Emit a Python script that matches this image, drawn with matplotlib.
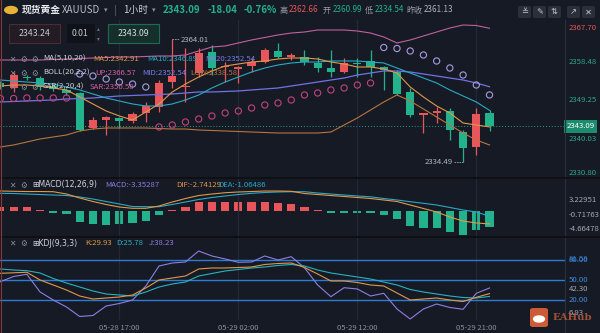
import numpy as np
import matplotlib
matplotlib.use('Agg')
import matplotlib.pyplot as plt
from matplotlib.patches import FancyBboxPatch, Circle, Rectangle

plt.rcParams['font.family'] = ['Noto Sans CJK SC', 'DejaVu Sans']

# hourly XAUUSD candles, 05-28 08:00 .. 05-29 22:00
opens = [2353.44, 2352.25, 2354.88, 2354.64, 2352.72, 2351.77, 2351.05, 2342.65, 2344.57, 2345.05,
         2344.33, 2346.25, 2347.69, 2353.68, 2352.49, 2355.84, 2360.88, 2357.28, 2356.80, 2357.52,
         2358.48, 2361.12, 2359.68, 2359.68, 2358.24, 2357.04, 2356.08, 2358.24, 2358.72, 2357.28,
         2356.08, 2351.29, 2345.77, 2346.25, 2346.73, 2341.69, 2338.10, 2346.25]
highs = [2353.92, 2356.08, 2355.36, 2355.12, 2353.20, 2352.25, 2351.29, 2345.29, 2345.53, 2345.29,
         2346.49, 2348.89, 2354.16, 2364.01, 2361.84, 2361.84, 2362.56, 2358.48, 2357.52, 2359.44,
         2361.84, 2363.04, 2360.64, 2361.36, 2359.68, 2361.36, 2359.44, 2359.44, 2361.36, 2357.52,
         2356.56, 2352.25, 2346.25, 2347.69, 2347.45, 2342.17, 2347.45, 2346.97]
lows = [2352.01, 2351.29, 2354.16, 2351.77, 2351.53, 2350.57, 2341.93, 2342.41, 2340.97, 2342.65,
        2343.85, 2344.09, 2346.49, 2352.25, 2348.89, 2354.88, 2355.36, 2353.68, 2353.44, 2356.08,
        2358.24, 2359.44, 2358.96, 2357.76, 2356.08, 2354.88, 2355.84, 2354.88, 2354.88, 2351.77,
        2350.57, 2345.29, 2341.45, 2343.85, 2339.77, 2334.49, 2336.18, 2341.93]
closes = [2352.49, 2355.36, 2354.64, 2352.49, 2352.01, 2351.05, 2342.17, 2344.57, 2345.29, 2344.33,
          2346.01, 2347.93, 2353.44, 2355.12, 2352.72, 2360.64, 2357.04, 2357.52, 2357.28, 2358.48,
          2361.36, 2359.68, 2360.16, 2358.48, 2357.04, 2356.08, 2358.24, 2358.00, 2357.28, 2356.56,
          2350.81, 2345.77, 2346.25, 2346.73, 2342.17, 2337.86, 2346.01, 2343.09]

ma5 = [2352.72, 2352.96, 2352.96, 2352.72, 2352.25, 2351.77, 2350.09, 2348.41, 2346.73, 2345.53,
       2344.57, 2346.49, 2348.41, 2351.29, 2353.20, 2354.88, 2356.32, 2357.52, 2358.00, 2358.48,
       2358.72, 2359.20, 2359.44, 2359.44, 2359.20, 2358.48, 2358.00, 2357.28, 2357.28, 2356.80,
       2355.84, 2352.49, 2350.09, 2347.93, 2346.25, 2343.85, 2343.37, 2342.91]
ma10 = [2354.16, 2353.92, 2353.68, 2353.44, 2353.20, 2352.49, 2351.77, 2350.81, 2349.85, 2349.13,
        2348.41, 2347.93, 2347.93, 2348.41, 2349.37, 2350.57, 2352.25, 2353.68, 2354.88, 2356.08,
        2357.04, 2357.76, 2358.24, 2358.48, 2358.48, 2358.72, 2358.72, 2358.72, 2358.48, 2358.24,
        2357.04, 2355.84, 2354.64, 2353.44, 2351.77, 2350.33, 2348.89, 2346.89]
boll_mid = [2348.89, 2349.01, 2349.13, 2349.25, 2349.37, 2349.61, 2349.73, 2349.85, 2350.09, 2350.33,
            2350.45, 2350.57, 2350.69, 2350.81, 2351.05, 2351.29, 2351.29, 2351.41, 2351.53, 2351.77,
            2352.01, 2352.25, 2352.72, 2353.20, 2353.68, 2354.16, 2354.64, 2355.36, 2355.84, 2356.32,
            2356.32, 2356.08, 2355.60, 2355.12, 2354.64, 2354.16, 2353.44, 2352.54]
boll_up = [2358.96, 2358.96, 2358.96, 2358.96, 2359.08, 2359.20, 2359.32, 2359.44, 2359.56, 2359.68,
           2359.68, 2359.80, 2359.92, 2359.92, 2360.16, 2361.12, 2362.08, 2362.32, 2363.04, 2363.76,
           2364.36, 2364.96, 2365.43, 2365.67, 2366.15, 2366.15, 2366.15, 2365.91, 2365.43, 2364.48,
           2363.04, 2363.76, 2364.72, 2365.67, 2366.63, 2367.35, 2367.23, 2366.57]
boll_low = [2338.10, 2338.58, 2339.30, 2340.02, 2340.50, 2340.97, 2341.93, 2342.41, 2342.65, 2342.65,
            2342.65, 2342.65, 2342.53, 2342.41, 2342.41, 2342.17, 2342.05, 2341.93, 2341.81, 2341.69,
            2341.57, 2341.45, 2341.45, 2341.45, 2341.45, 2341.69, 2343.37, 2345.05, 2346.97, 2348.89,
            2350.57, 2349.13, 2347.21, 2345.29, 2343.37, 2341.45, 2339.77, 2338.58]
sar = [2349.73, 2349.73, 2349.85, 2349.85, 2349.85, 2349.85,
       2355.60, 2355.12, 2354.40, 2353.68, 2353.20, 2352.49,
       2342.89, 2343.37, 2344.09, 2344.81, 2345.53, 2346.25, 2346.73, 2347.45, 2348.17, 2348.65,
       2349.37, 2350.57, 2351.05, 2351.77, 2352.25, 2352.96, 2353.44,
       2361.96, 2361.72, 2361.12, 2360.16, 2358.72, 2357.04, 2355.36, 2352.96, 2350.58]

macd_hist = [1.0, 1.0, 0.93, 0.3, -0.43, -0.65, -2.26, -2.83, -2.98, -2.83,
             -2.61, -2.11, -0.80, 0.25, 1.0, 1.96, 1.96, 2.09, 1.96, 1.96,
             2.09, 1.74, 1.52, 1.0, 0.3, -0.3, -0.3, -0.35, -0.43, -0.80,
             -1.74, -3.13, -3.70, -3.70, -4.43, -5.15, -4.07, -3.35287]
dif = [4.41, 4.35, 4.30, 4.30, 4.26, 3.76, 2.89, 2.13, 1.48, 0.93,
       0.65, 0.65, 1.15, 2.02, 2.78, 3.43, 3.76, 4.04, 4.20, 4.30,
       4.41, 4.41, 4.35, 3.87, 3.65, 3.43, 3.22, 3.00, 2.78, 2.46,
       2.13, 1.37, 0.61, -0.15, -1.24, -2.11, -2.54, -2.74129]
dea = [3.91, 3.87, 3.76, 3.65, 3.54, 3.43, 3.11, 2.67, 2.13, 1.59,
       1.04, 1.00, 1.00, 1.48, 2.02, 2.57, 3.00, 3.33, 3.65, 3.91,
       4.09, 4.20, 4.26, 4.26, 3.98, 3.76, 3.54, 3.33, 3.15, 2.78,
       2.46, 2.09, 1.74, 1.37, 0.83, 0.28, -0.15, -1.06486]

k_line = [59.88, 60.62, 61.36, 50.0, 42.63, 35.25, 26.40, 21.98, 23.45, 24.93,
          27.88, 38.20, 50.0, 52.95, 55.90, 66.22, 67.70, 67.70, 68.44, 69.17,
          72.86, 74.34, 75.07, 68.44, 58.85, 48.53, 48.53, 46.31, 42.63, 41.15,
          30.83, 20.50, 21.98, 23.45, 20.50, 18.29, 24.48, 29.93]
d_line = [66.22, 64.75, 63.72, 60.32, 52.21, 45.58, 39.68, 33.78, 29.35, 27.88,
          26.40, 32.30, 39.68, 44.10, 47.05, 55.90, 59.59, 63.27, 65.49, 67.70,
          69.17, 71.39, 72.86, 70.65, 64.75, 60.32, 57.37, 54.42, 51.47, 47.05,
          42.63, 35.99, 32.30, 29.35, 26.40, 24.19, 23.45, 25.78]
j_line = [47.49, 55.16, 58.41, 32.30, 20.50, 10.18, -3.83, -2.36, 11.65, 15.34,
          20.50, 41.15, 70.65, 75.07, 76.55, 92.77, 85.40, 80.97, 76.11, 76.55,
          85.40, 79.50, 84.37, 68.14, 42.63, 25.37, 38.64, 36.73, 26.40, 30.38,
          7.23, -7.52, 7.23, 14.60, 9.44, 6.78, 30.38, 38.23]

time_ticks = [9, 18, 27, 36]
time_labels = ['05-28 17:00', '05-29 02:00', '05-29 12:00', '05-29 21:00']
price_ticks = [2367.70, 2358.48, 2349.25, 2340.03, 2330.80]
macd_ticks = [3.22951, -0.71763, -4.66478]
kdj_levels = [80, 50, 20]
kdj_marks = [81.58, 42.30, 6.93]

BG = '#161a24'
RED = '#e8555a'
GREEN = '#22b28c'
GRID = '#242936'
GRAY = '#8b909b'
C_MA5 = '#e0984a'
C_MA10 = '#2aa9c4'
C_MID = '#7272e6'
C_UP = '#c0609f'
C_LOW = '#b87540'
C_SAR_DN = '#c2427f'
C_SAR_UP = '#a99ce0'
C_J = '#8c7fe4'
C_LVL = '#2e7bd3'

W, H = 600, 333
fig = plt.figure(figsize=(6, 3.33), dpi=100)
fig.patch.set_facecolor(BG)


def box(x0, y0, x1, y1):
    return [x0 / W, 1 - y1 / H, (x1 - x0) / W, (y1 - y0) / H]


def put(x, y, s, color, size=5.6, **kw):
    fig.text(x / W, 1 - y / H, s, color=color, fontsize=size, va='center', **kw)


ax = fig.add_axes(box(0, 20, 565, 177))
ax_macd = fig.add_axes(box(0, 178, 565, 236), sharex=ax)
ax_kdj = fig.add_axes(box(0, 237, 565, 320), sharex=ax)

idx = np.arange(len(closes))
o = np.array(opens)
c = np.array(closes)
hi = np.array(highs)
lo = np.array(lows)

for a in (ax, ax_macd, ax_kdj):
    a.set_facecolor(BG)
    for s in a.spines.values():
        s.set_visible(False)
    a.set_xticks(time_ticks)
    a.grid(axis='x', color=GRID, lw=0.9)
    a.tick_params(length=0, labelleft=False, labelright=False, labelbottom=False)
    a.set_yticks([])

ax.set_xlim(-0.03, 42.71)

# ---- price pane ----
ax.set_ylim(2330.90, 2368.55)
up = c >= o
col = np.where(up, RED, GREEN)
ax.vlines(idx, lo, hi, colors=col, lw=0.9, zorder=2)
ax.bar(idx, np.maximum(np.abs(c - o), 0.25), bottom=np.minimum(o, c),
       width=0.62, color=col, linewidth=0, zorder=2)

ax.plot(idx, boll_up, color=C_UP, lw=0.8, zorder=3)
ax.plot(idx, boll_mid, color=C_MID, lw=0.9, zorder=3)
ax.plot(idx, boll_low, color=C_LOW, lw=0.8, zorder=3)
ax.plot(idx, ma10, color=C_MA10, lw=0.8, zorder=3)
ax.plot(idx, ma5, color=C_MA5, lw=0.8, zorder=3)

s_arr = np.array(sar)
below = s_arr < c
ax.scatter(idx[below], s_arr[below], s=20, facecolors='none', edgecolors=C_SAR_DN, linewidths=0.8, zorder=4)
ax.scatter(idx[~below], s_arr[~below], s=20, facecolors='none', edgecolors=C_SAR_UP, linewidths=0.8, zorder=4)

ax.axhline(c[-1], color='#2a9d84', lw=0.7, ls=(0, (1, 2)), zorder=1)

# extreme high / low markers
i_hi = int(np.argmax(hi))
i_lo = int(np.argmin(lo))
ax.plot([i_hi, i_hi + 0.5], [hi[i_hi], hi[i_hi]], color='#9a9ea8', lw=0.6, ls=(0, (2, 1)))
ax.text(i_hi + 0.6, hi[i_hi] - 0.3, f'{hi[i_hi]:.2f}', color='#b3b7bf', fontsize=5.6, va='center')
ax.plot([i_lo - 0.7, i_lo], [lo[i_lo], lo[i_lo]], color='#9a9ea8', lw=0.6, ls=(0, (2, 1)))
ax.text(i_lo - 0.75, lo[i_lo], f'{lo[i_lo]:.2f}', color='#b3b7bf', fontsize=5.6, va='center', ha='right')

ytr = ax.get_yaxis_transform()
for v in price_ticks:
    va = 'center'
    color = '#2fa887'
    if v == max(price_ticks):
        va, color = 'top', RED
    elif v == min(price_ticks):
        va = 'bottom'
    ax.text(1.006, v, f'{v:.2f}', transform=ytr, color=color, fontsize=5.6, va=va, ha='left')
ax.text(1.003, c[-1], f'{c[-1]:.2f}', transform=ytr, color='white', fontsize=5.6, va='center', ha='left',
        bbox=dict(boxstyle='square,pad=0.3', fc='#1d8b6e', ec='none'), zorder=6)

# ---- MACD pane ----
ax_macd.set_ylim(-5.37, 7.24)
hist = np.array(macd_hist)
ax_macd.bar(idx, hist, width=0.62, color=np.where(hist >= 0, RED, GREEN), linewidth=0)
ax_macd.plot(idx, dea, color=C_MA10, lw=0.8)
ax_macd.plot(idx, dif, color=C_MA5, lw=0.8)
mtr = ax_macd.get_yaxis_transform()
for v, va in zip(macd_ticks, ['top', 'center', 'bottom']):
    ax_macd.text(1.006, v, f'{v:.5f}', transform=mtr, color='#a3a8b2', fontsize=5.6, va=va, ha='left')

# ---- KDJ pane ----
ax_kdj.set_ylim(-9.0, 113.4)
for lv in kdj_levels:
    ax_kdj.axhline(lv, color=C_LVL, lw=1.0)
ax_kdj.plot(idx, j_line, color=C_J, lw=0.8)
ax_kdj.plot(idx, d_line, color='#26b3c0', lw=0.8)
ax_kdj.plot(idx, k_line, color=C_MA5, lw=0.8)
ktr = ax_kdj.get_yaxis_transform()
for lv in kdj_levels:
    ax_kdj.text(1.006, lv, f'{lv:.2f}', transform=ktr, color='#3d8be0', fontsize=5.6, va='center')
ax_kdj.text(1.006, kdj_marks[0], f'{kdj_marks[0]:.2f}', transform=ktr, color='#3d8be0', fontsize=5.6, va='center', alpha=0.8)
ax_kdj.text(1.006, kdj_marks[1], f'{kdj_marks[1]:.2f}', transform=ktr, color='#a3a8b2', fontsize=5.6, va='top')
ax_kdj.text(1.006, kdj_marks[2], f'{kdj_marks[2]:.2f}', transform=ktr, color='#a3a8b2', fontsize=5.6, va='top', zorder=5)

ax_kdj.set_xticks(time_ticks, labels=time_labels)
ax_kdj.tick_params(labelbottom=True, labelsize=5.5, labelcolor=GRAY, pad=3)

# ---- frame lines ----
fig.add_artist(plt.Line2D([565 / W, 565 / W], [0, 1 - 20 / H], color='#2b303c', lw=0.8))
for yy in (177.5, 236.5):
    fig.add_artist(plt.Line2D([0, 1], [1 - yy / H, 1 - yy / H], color='#0c0e13', lw=1.2))
fig.add_artist(plt.Line2D([0.5 / W, 0.5 / W], [0, 1], color='#8a3a3a', lw=0.8))

# ---- header ----
fig.add_artist(Circle((11 / W, 1 - 10 / H), 0.0105, transform=fig.transFigure, color='#e8b13a'))
put(22, 10, '现货黄金', '#e6e8ec', size=7, fontweight='bold')
put(62, 10, 'XAUUSD', '#b9bdc6', size=7)
put(104, 10, '▾', GRAY, size=5)
fig.add_artist(plt.Line2D([115 / W, 115 / W], [1 - 5 / H, 1 - 15 / H], color='#454a55', lw=0.8))
put(123, 10, '1小时', '#c9ccd3', size=7)
put(152, 10, '▾', GRAY, size=5)
put(163, 10, f'{c[-1]:.2f}', GREEN, size=7, fontweight='bold')
put(208, 10, '-18.04', GREEN, size=7, fontweight='bold')
put(244, 10, '-0.76%', GREEN, size=7, fontweight='bold')
put(280, 10, '高', '#9a9ea8', size=5.8)
put(289, 10, '2362.66', RED, size=5.8)
put(323, 10, '开', '#9a9ea8', size=5.8)
put(333, 10, '2360.99', GREEN, size=5.8)
put(365, 10, '低', '#9a9ea8', size=5.8)
put(375, 10, '2334.54', GREEN, size=5.8)
put(406, 10, '昨收', '#9a9ea8', size=5.8)
put(424, 10, '2361.13', '#b0b4bc', size=5.8)

for x0, glyph in zip([518, 533, 548, 567, 582], ['≚', '✎', '⇅', '↗', '✕']):
    fig.add_artist(FancyBboxPatch((x0 / W, 1 - 18 / H), 13 / W, 12 / H, transform=fig.transFigure,
                                  boxstyle='round,pad=0,rounding_size=0.004', fc='#2a2f3a', ec='none'))
    put(x0 + 6.5, 12, glyph, '#c4c8d0', size=6, ha='center', family='DejaVu Sans')

# order boxes
fig.add_artist(FancyBboxPatch((9 / W, 1 - 43 / H), 51 / W, 19 / H, transform=fig.transFigure,
                              boxstyle='square,pad=0', fc='#231c24', ec='#4d2b33', lw=0.8))
put(34.5, 33.5, '2343.24', '#c5c8ce', size=6.3, ha='center')
fig.add_artist(Rectangle((67 / W, 1 - 43 / H), 28 / W, 19 / H, transform=fig.transFigure,
                         fc='#0f1218', ec='none'))
put(80, 33.5, '0.01', '#c5c8ce', size=6.3, ha='center')
put(98, 29, '▴', '#6d727d', size=4, ha='center', family='DejaVu Sans')
put(98, 39, '▾', '#6d727d', size=4, ha='center', family='DejaVu Sans')
fig.add_artist(FancyBboxPatch((108 / W, 1 - 43 / H), 51 / W, 19 / H, transform=fig.transFigure,
                              boxstyle='square,pad=0', fc='#15302a', ec='#1f6a57', lw=0.8))
put(133.5, 33.5, f'{c[-1]:.2f}', '#d6dadf', size=6.3, ha='center')

# indicator legends
ICON = '#8a8f99'
for yy in (59, 73, 87):
    put(9, yy, '✕', ICON, size=5.5, family='DejaVu Sans')
    put(20, yy, '⚙', ICON, size=5.5, family='DejaVu Sans')
    put(31, yy, '⚙', ICON, size=5.5, family='DejaVu Sans')
put(43, 59, 'MA(5,10,20)', '#d0d3da')
put(93, 59, f'MA5:{ma5[-1]:.2f}', C_MA5)
put(147, 59, f'MA10:{ma10[-1]:.2f}', C_MA10)
put(205, 59, f'MA20:{boll_mid[-1]:.2f}', '#7b7dea')
put(43, 73, 'BOLL(20,2,2)', '#d0d3da')
put(95, 73, f'UP:{boll_up[-1]:.2f}', '#d35ea0')
put(142, 73, f'MID:{boll_mid[-1]:.2f}', '#7b7dea')
put(190, 73, f'LOW:{boll_low[-1]:.2f}', C_LOW)
put(43, 87, 'SAR(2,20,4)', '#d0d3da')
put(90, 87, f'SAR:{sar[-1]:.2f}', '#d35ea0')

put(9, 185, '✕', ICON, size=5.5, family='DejaVu Sans')
put(20, 185, '⚙', ICON, size=5.5, family='DejaVu Sans')
put(32, 185, '⊞MACD(12,26,9)', '#d0d3da', family='DejaVu Sans')
put(105, 185, f'MACD:{macd_hist[-1]:.5f}', C_J)
put(176, 185, f'DIF:{dif[-1]:.5f}', C_MA5)
put(218, 185, f'DEA:{dea[-1]:.5f}', C_MA10)

put(9, 243, '✕', ICON, size=5.5, family='DejaVu Sans')
put(20, 243, '⚙', ICON, size=5.5, family='DejaVu Sans')
put(32, 243, '⊞KDJ(9,3,3)', '#d0d3da', family='DejaVu Sans')
put(85, 243, f'K:{k_line[-1]:.2f}', C_MA5)
put(116, 243, f'D:{d_line[-1]:.2f}', '#26b3c0')
put(149, 243, f'J:{j_line[-1]:.2f}', C_J)

# watermark
fig.add_artist(FancyBboxPatch((530 / W, 1 - 327 / H), 18 / W, 19 / H, transform=fig.transFigure,
                              boxstyle='round,pad=0,rounding_size=0.006', fc='#e0643a', ec='none', alpha=0.9))
fig.add_artist(Circle((539 / W, 1 - 319 / H), 0.009, transform=fig.transFigure, color='white'))
put(553, 318, 'EAHub', '#b85a3a', size=7.3, family='DejaVu Serif', fontweight='bold', alpha=0.85)

fig.savefig('out.png', dpi=100, facecolor=BG)
